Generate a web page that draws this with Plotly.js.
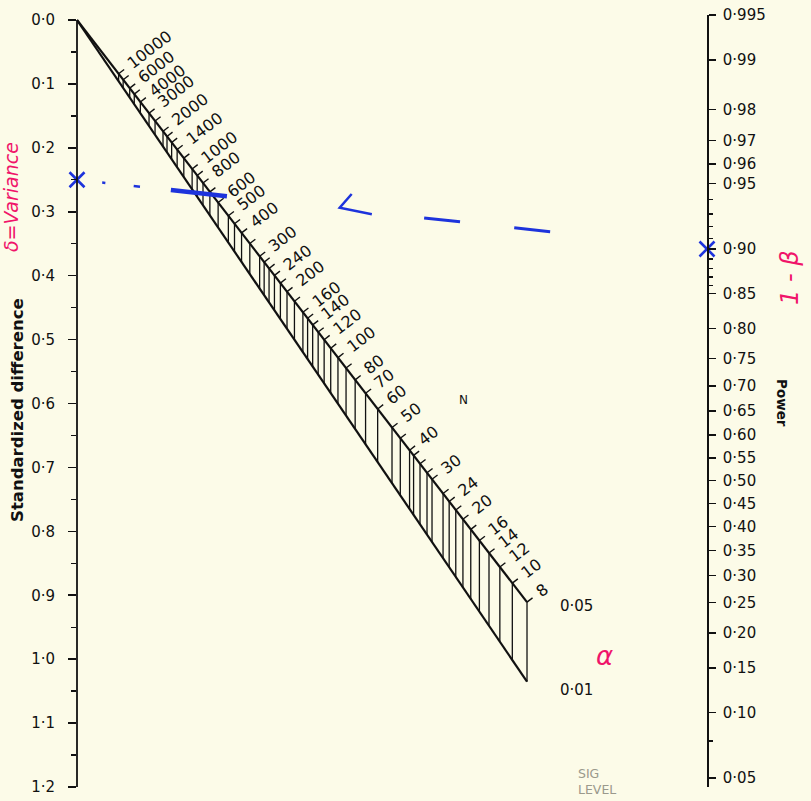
<!DOCTYPE html>
<html><head><meta charset="utf-8">
<script src="https://cdn.plot.ly/plotly-3.0.1.min.js"></script>
<style>html,body{margin:0;padding:0;background:#fcfbe8;}#chart{width:811px;height:801px;}</style>
</head><body><div id="chart"></div>
<script>
// ---------------- data ----------------
const diffTicks = [0.0,0.1,0.2,0.3,0.4,0.5,0.6,0.7,0.8,0.9,1.0,1.1,1.2];
const diffTickText = ['0·0','0·1','0·2','0·3','0·4','0·5','0·6','0·7','0·8','0·9','1·0','1·1','1·2'];
const diffMinor = [0.05,0.15,0.25,0.35,0.45,0.55,0.65,0.75,0.85,0.95,1.05,1.15];
const powerTicks = [0.995,0.99,0.98,0.97,0.96,0.95,0.90,0.85,0.80,0.75,0.70,0.65,0.60,0.55,0.50,0.45,0.40,0.35,0.30,0.25,0.20,0.15,0.10,0.05];
const powerTickText = ['0·995','0·99','0·98','0·97','0·96','0·95','0·90','0·85','0·80','0·75','0·70','0·65','0·60','0·55','0·50','0·45','0·40','0·35','0·30','0·25','0·20','0·15','0·10','0·05'];
const powerMinor = [0.94,0.93,0.92,0.91,0.89,0.88,0.87,0.86,0.075];
const nLabelled = [10000,6000,4000,3000,2000,1400,1000,800,600,500,400,300,240,200,160,140,120,100,80,70,60,50,40,30,24,20,16,14,12,10,8];
const nMinor = [8000,5000,2500,1800,1600,1200,900,700,450,350,280,260,220,180,150,130,110,90,45,38,35,32,26,22,18];
const sigLevels = [0.05, 0.01];
const sigLabels = ['0·05','0·01'];
const exampleDiff = 0.25;    // blue cross on the difference axis
const examplePower = 0.90;   // blue cross on the power axis

// ---------------- scales ----------------
function probit(p){
  const a=[-3.969683028665376e+01,2.209460984245205e+02,-2.759285104469687e+02,1.383577518672690e+02,-3.066479806614716e+01,2.506628277459239e+00];
  const b=[-5.447609879822406e+01,1.615858368580409e+02,-1.556989798598866e+02,6.680131188771972e+01,-1.328068155288572e+01];
  const c=[-7.784894002430293e-03,-3.223964580411365e-01,-2.400758277161838e+00,-2.549732539343734e+00,4.374664141464968e+00,2.938163982698783e+00];
  const d=[7.784695709041462e-03,3.224671290700398e-01,2.445134137142996e+00,3.754408661907416e+00];
  const pl=0.02425, ph=1-pl; let q,r;
  if(p<pl){q=Math.sqrt(-2*Math.log(p));return (((((c[0]*q+c[1])*q+c[2])*q+c[3])*q+c[4])*q+c[5])/((((d[0]*q+d[1])*q+d[2])*q+d[3])*q+1);}
  if(p<=ph){q=p-0.5;r=q*q;return (((((a[0]*r+a[1])*r+a[2])*r+a[3])*r+a[4])*r+a[5])*q/(((((b[0]*r+b[1])*r+b[2])*r+b[3])*r+b[4])*r+1);}
  q=Math.sqrt(-2*Math.log(1-p));return -(((((c[0]*q+c[1])*q+c[2])*q+c[3])*q+c[4])*q+c[5])/((((d[0]*q+d[1])*q+d[2])*q+d[3])*q+1);
}
const W=811,H=801,ML=77,MR=104,PW=W-ML-MR;
const TOP=15, BOT=787;                 // plot area (pixels)
const D0PX=20, dMax=1.2;               // difference axis: 0 at 20px, 1.2 at bottom
const PXD=(BOT-D0PX)/dMax;
const dRange=[dMax, -(D0PX-TOP)/PXD];
const zTop=probit(0.995), zLab=probit(0.05), Z05PX=778;
const PXZ=(Z05PX-TOP)/(zTop-zLab);
const zRange=[zTop-(BOT-TOP)/PXZ, zTop];
function pyFromD(d){return D0PX+d*PXD;}
function dFromPy(py){return (py-D0PX)/PXD;}
function pyFromZ(z){return TOP+(zTop-z)*PXZ;}
function dFromZ(z){return dFromPy(pyFromZ(z));}
function pxFromX(x){return ML+x*PW;}
function xFromPx(px){return (px-ML)/PW;}
const P0=dFromZ(0), Q=dFromZ(0)-dFromZ(1), Bw=1/Q;
// nomogram: d*sqrt(N)/2 = z(alpha/2) + z(beta)
function nPoint(N,alpha){const A=Math.sqrt(N)/2, za=probit(1-alpha/2);return {x:Bw/(A+Bw), d:(za+P0*Bw)/(A+Bw)};}
function move(pt,ox,oy){return {x:pt.x+ox/PW, d:pt.d+oy/PXD};}

const nMin=Math.min.apply(null,nLabelled);
const end05=nPoint(nMin,sigLevels[0]), end01=nPoint(nMin,sigLevels[1]);
const ddx=pxFromX(end05.x)-pxFromX(0), ddy=pyFromD(end05.d)-pyFromD(0), L=Math.hypot(ddx,ddy);
const u={x:ddx/L,y:ddy/L}, perp={x:u.y,y:-u.x};
const ang=-Math.atan2(-perp.y,perp.x)*180/Math.PI;

// ---------------- traces ----------------
const allN=nLabelled.concat(nMinor);
const hx=[],hy=[],tx=[],ty=[];
allN.forEach(N=>{
  const p5=nPoint(N,sigLevels[0]), p1=nPoint(N,sigLevels[1]);
  hx.push(p5.x,p1.x,null); hy.push(p5.d,p1.d,null);
  const t=move(p5,perp.x*7,perp.y*7);
  tx.push(p5.x,t.x,null); ty.push(p5.d,t.d,null);
});
const traces=[
  {x:[0,end05.x,null,0,end01.x],y:[0,end05.d,null,0,end01.d],mode:'lines',line:{color:'#111',width:2.2},hoverinfo:'skip',cliponaxis:false},
  {x:hx,y:hy,mode:'lines',line:{color:'#111',width:1.3},hoverinfo:'skip',cliponaxis:false},
  {x:tx,y:ty,mode:'lines',line:{color:'#111',width:1.4},hoverinfo:'skip',cliponaxis:false}
];
// blue hand-drawn ruler
const dRight=dFromZ(probit(examplePower));
function rulerPt(f,off){const x=f, d=exampleDiff+f*(dRight-exampleDiff);return move({x:x,d:d},0,off||0);}
const blue='#1d33dc';
const dashes=[[0.040,0.045,2.5],[0.090,0.100,2.5],[0.149,0.238,4.5],[0.551,0.608,3],[0.694,0.751,3]];
dashes.forEach(s=>{
  const a=rulerPt(s[0]), b=rulerPt(s[1]);
  traces.push({x:[a.x,b.x],y:[a.d,b.d],mode:'lines',line:{color:blue,width:s[2]},hoverinfo:'skip',cliponaxis:false});
});
const vmark=[rulerPt(0.436,-16),rulerPt(0.417,-1),rulerPt(0.468,2)];
traces.push({x:vmark.map(p=>p.x),y:vmark.map(p=>p.d),mode:'lines',line:{color:blue,width:2.5},hoverinfo:'skip',cliponaxis:false});
traces.push({x:[0],y:[exampleDiff],mode:'markers',marker:{symbol:'x-thin',size:15,line:{color:blue,width:2.6}},hoverinfo:'skip',cliponaxis:false});
traces.push({x:[1],y:[probit(examplePower)],xaxis:'x',yaxis:'y2',mode:'markers',marker:{symbol:'x-thin',size:15,line:{color:blue,width:2.6}},hoverinfo:'skip',cliponaxis:false});
// invisible carriers so the overlaid tick axes are drawn
traces.push({x:[1],y:[probit(examplePower)],xaxis:'x',yaxis:'y3',mode:'markers',marker:{size:1,opacity:0},hoverinfo:'skip'});
traces.push({x:[0],y:[exampleDiff],xaxis:'x',yaxis:'y4',mode:'markers',marker:{size:1,opacity:0},hoverinfo:'skip'});
traces.push({x:[0],y:[exampleDiff],xaxis:'x',yaxis:'y5',mode:'markers',marker:{size:1,opacity:0},hoverinfo:'skip'});

// ---------------- annotations ----------------
const ann=[];
const font15={family:'DejaVu Sans',size:15,color:'#111'};
const fontN={family:'DejaVu Sans',size:16,color:'#111'};
nLabelled.forEach(N=>{
  const p5=nPoint(N,sigLevels[0]);
  const s=move(p5,perp.x*12,perp.y*12);
  ann.push({x:s.x,y:s.d,xref:'x',yref:'y',text:String(N),showarrow:false,textangle:ang,
    xanchor:'left',yanchor:'bottom',xshift:-9.5*u.x,yshift:-9.5*u.y,borderpad:0,font:fontN});
});
[end05,end01].forEach((p,i)=>{
  ann.push({x:xFromPx(pxFromX(p.x)+31),y:dFromPy(pyFromD(p.d)+(i?8:4)),xref:'x',yref:'y',text:sigLabels[i],
    showarrow:false,xanchor:'left',yanchor:'middle',font:font15});
});
function paper(px,py){return {x:xFromPx(px),y:1-py/H};}
function addP(px,py,o){const p=paper(px,py);ann.push(Object.assign({x:p.x,y:p.y,xref:'paper',yref:'paper',showarrow:false,xanchor:'center',yanchor:'middle'},o));}
addP(463,400,{text:'N',font:{family:'DejaVu Sans',size:12,color:'#111'}});
addP(576,764,{text:'SIG<br>LEVEL',xanchor:'left',yanchor:'top',align:'left',font:{family:'DejaVu Sans',size:12.5,color:'#9a998c'}});
addP(17,410,{text:'<b>Standardized difference</b>',textangle:-90,font:{family:'DejaVu Sans',size:16.5,color:'#111'}});
addP(782,403,{text:'<b>Power</b>',textangle:90,font:{family:'DejaVu Sans',size:13.5,color:'#111'}});
const red='#f0146a';
addP(11,197,{text:'<i>δ=Variance</i>',textangle:-90,font:{family:'DejaVu Sans',size:19,color:red}});
addP(790,278,{text:'<i>1 - β</i>',textangle:-90,font:{family:'DejaVu Sans',size:24,color:red}});
addP(604,656,{text:'<i>α</i>',font:{family:'DejaVu Sans',size:26,color:red}});

// ---------------- layout ----------------
const yDom=[(H-BOT)/H,(H-TOP)/H];
const noGrid={showgrid:false,zeroline:false,fixedrange:true};
const layout={
  width:W,height:H,margin:{l:ML,r:MR,t:0,b:0},
  paper_bgcolor:'#fcfbe8',plot_bgcolor:'rgba(0,0,0,0)',showlegend:false,
  xaxis:{range:[0,1],visible:false,fixedrange:true},
  yaxis:Object.assign({domain:yDom,range:dRange,side:'left',anchor:'x',showline:false,ticks:'',showticklabels:false},noGrid),
  yaxis4:Object.assign({overlaying:'y',range:dRange,side:'left',anchor:'x',showline:false,
    ticks:'outside',ticklen:8,tickwidth:1.6,tickcolor:'#111',tickmode:'array',tickvals:diffTicks,ticktext:diffTickText,
    ticklabelstandoff:10,tickfont:font15},noGrid),
  yaxis5:Object.assign({overlaying:'y',range:dRange,side:'left',anchor:'x',showline:false,
    ticks:'outside',ticklen:5,tickwidth:1.4,tickcolor:'#111',tickmode:'array',tickvals:diffMinor,showticklabels:false},noGrid),
  yaxis2:Object.assign({overlaying:'y',range:zRange,side:'right',anchor:'x',showline:true,linecolor:'#111',linewidth:1.8,
    ticks:'outside',ticklen:7,tickwidth:1.5,tickcolor:'#111',tickmode:'array',tickvals:powerTicks.map(probit),ticktext:powerTickText,
    ticklabelstandoff:4,tickfont:font15},noGrid),
  yaxis3:Object.assign({overlaying:'y',range:zRange,side:'right',anchor:'x',showline:false,
    ticks:'outside',ticklen:5,tickwidth:1.3,tickcolor:'#111',tickmode:'array',tickvals:powerMinor.map(probit),
    showticklabels:false},noGrid),
  shapes:[{type:'line',xref:'paper',yref:'paper',x0:0,x1:0,
    y0:1-pyFromD(0)/H,y1:1-pyFromD(dMax)/H,line:{color:'#111',width:1.8},layer:'above'}],
  annotations:ann
};
Plotly.newPlot('chart',traces,layout,{staticPlot:true,displayModeBar:false});
</script></body></html>
